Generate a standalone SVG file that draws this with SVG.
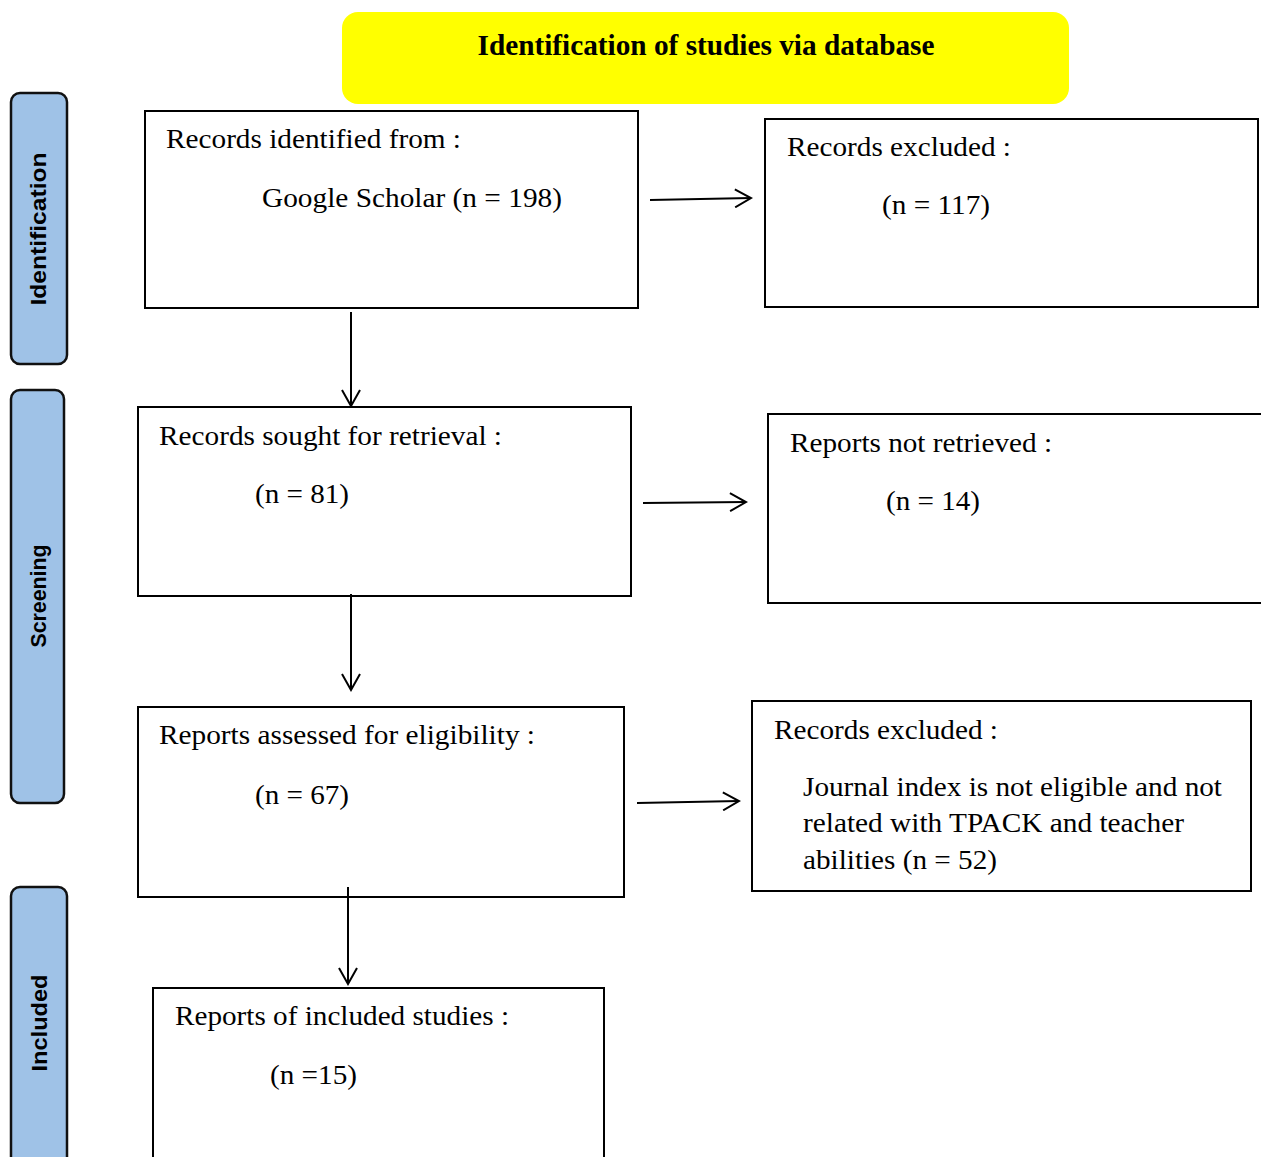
<svg xmlns="http://www.w3.org/2000/svg" width="1261" height="1157" viewBox="0 0 1261 1157">
<defs>
<style>
.box{fill:#fff;stroke:#000;stroke-width:2}
.side{fill:#9fc2e7;stroke:#111;stroke-width:2.5}
.t{font-family:"Liberation Serif","Times New Roman",serif;font-size:27px;fill:#000}
.st{font-family:"Liberation Sans",Arial,sans-serif;font-weight:bold;font-size:22px;fill:#000}
.con{stroke:#000;stroke-width:2;fill:none}
</style>
<marker id="arr" viewBox="0 0 20 20" refX="18" refY="10" markerWidth="20" markerHeight="20" markerUnits="userSpaceOnUse" orient="auto">
<polyline points="2,1 18,10 2,19" fill="none" stroke="#000" stroke-width="2"/>
</marker>
</defs>
<rect width="1261" height="1157" fill="#fff"/>
<g id="header">
<rect x="342" y="12" width="727" height="92" rx="16" fill="#ffff00"/>
<text x="706" y="55" text-anchor="middle" font-family="Liberation Serif,serif" font-weight="bold" font-size="29" textLength="457" lengthAdjust="spacingAndGlyphs">Identification of studies via database</text>
</g>
<g id="stage-identification">
<rect class="side" x="11" y="93" width="56" height="271" rx="9"/>
<text class="st" transform="translate(46,229) rotate(-90)" text-anchor="middle" textLength="153" lengthAdjust="spacingAndGlyphs">Identification</text>
</g>
<g id="stage-screening">
<rect class="side" x="11" y="390" width="53" height="413" rx="9"/>
<text class="st" transform="translate(46,596) rotate(-90)" text-anchor="middle" textLength="103" lengthAdjust="spacingAndGlyphs">Screening</text>
</g>
<g id="stage-included">
<rect class="side" x="11" y="887" width="56" height="280" rx="9"/>
<text class="st" transform="translate(47,1023) rotate(-90)" text-anchor="middle" textLength="97" lengthAdjust="spacingAndGlyphs">Included</text>
</g>
<g id="n1">
<rect class="box" x="145" y="111" width="493" height="197"/>
<text class="t" x="166" y="148" textLength="295" lengthAdjust="spacingAndGlyphs">Records identified from :</text>
<text class="t" x="262" y="207" textLength="300" lengthAdjust="spacingAndGlyphs">Google Scholar (n = 198)</text>
</g>
<g id="n2">
<rect class="box" x="765" y="119" width="493" height="188"/>
<text class="t" x="787" y="156" textLength="224" lengthAdjust="spacingAndGlyphs">Records excluded :</text>
<text class="t" x="882" y="214" textLength="108" lengthAdjust="spacingAndGlyphs">(n = 117)</text>
</g>
<g id="n3">
<rect class="box" x="138" y="407" width="493" height="189"/>
<text class="t" x="159" y="445" textLength="343" lengthAdjust="spacingAndGlyphs">Records sought for retrieval :</text>
<text class="t" x="255" y="503" textLength="94" lengthAdjust="spacingAndGlyphs">(n = 81)</text>
</g>
<g id="n4">
<rect class="box" x="768" y="414" width="500" height="189"/>
<text class="t" x="790" y="452" textLength="262" lengthAdjust="spacingAndGlyphs">Reports not retrieved :</text>
<text class="t" x="886" y="510" textLength="94" lengthAdjust="spacingAndGlyphs">(n = 14)</text>
</g>
<g id="n5">
<rect class="box" x="138" y="707" width="486" height="190"/>
<text class="t" x="159" y="744" textLength="376" lengthAdjust="spacingAndGlyphs">Reports assessed for eligibility :</text>
<text class="t" x="255" y="804" textLength="94" lengthAdjust="spacingAndGlyphs">(n = 67)</text>
</g>
<g id="n6">
<rect class="box" x="752" y="701" width="499" height="190"/>
<text class="t" x="774" y="739" textLength="224" lengthAdjust="spacingAndGlyphs">Records excluded :</text>
<text class="t" x="803" y="796" textLength="419" lengthAdjust="spacingAndGlyphs">Journal index is not eligible and not</text>
<text class="t" x="803" y="832" textLength="381" lengthAdjust="spacingAndGlyphs">related with TPACK and teacher</text>
<text class="t" x="803" y="869" textLength="194" lengthAdjust="spacingAndGlyphs">abilities (n = 52)</text>
</g>
<g id="n7">
<rect class="box" x="153" y="988" width="451" height="190"/>
<text class="t" x="175" y="1025" textLength="334" lengthAdjust="spacingAndGlyphs">Reports of included studies :</text>
<text class="t" x="270" y="1084" textLength="87" lengthAdjust="spacingAndGlyphs">(n =15)</text>
</g>
<g id="connectors">
<line class="con" x1="650" y1="200" x2="751" y2="198" marker-end="url(#arr)"/>
<line class="con" x1="351" y1="312" x2="351" y2="406" marker-end="url(#arr)"/>
<line class="con" x1="643" y1="503" x2="746" y2="502" marker-end="url(#arr)"/>
<line class="con" x1="351" y1="594" x2="351" y2="690" marker-end="url(#arr)"/>
<line class="con" x1="637" y1="803" x2="739" y2="801" marker-end="url(#arr)"/>
<line class="con" x1="348" y1="887" x2="348" y2="984" marker-end="url(#arr)"/>
</g>
</svg>
